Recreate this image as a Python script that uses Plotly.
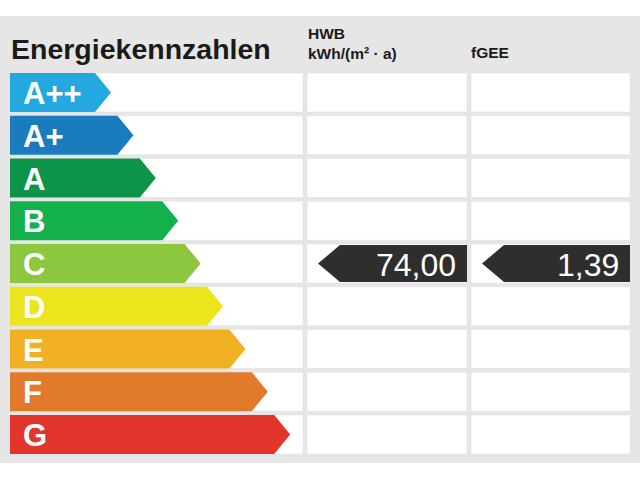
import plotly.graph_objects as go

# Energy classes and their colours (top to bottom)
classes = ["A++", "A+", "A", "B", "C", "D", "E", "F", "G"]
class_colors = ["#24a8e0", "#1a7bbd", "#0e9448", "#14b04c", "#8dc63f",
                "#ece51e", "#f2b024", "#e27a2c", "#e2352b"]

# Building values
title = "Energiekennzahlen"
hwb_header = "HWB<br>kWh/(m² · a)"
fgee_header = "fGEE"
hwb_value = "74,00"
fgee_value = "1,39"
rated_class = "C"

# Layout in pixels (640x480 canvas)
row_top = 73
row_h = 39
row_pitch = 42.75
arrow_x0 = 10
arrow_tip0 = 111
arrow_step = 22.4
tip_len = 16
cols = [(10, 303), (307, 467), (471, 630)]

fig = go.Figure()
shapes = []

# grey panel
shapes.append(dict(type="rect", xref="x", yref="y", x0=0, x1=640, y0=16, y1=463,
                   fillcolor="#e6e6e6", line_width=0, layer="below"))

for i, (cls, col) in enumerate(zip(classes, class_colors)):
    y0 = row_top + i * row_pitch
    y1 = y0 + row_h
    ym = (y0 + y1) / 2
    for cx0, cx1 in cols:
        shapes.append(dict(type="rect", xref="x", yref="y", x0=cx0, x1=cx1, y0=y0, y1=y1,
                           fillcolor="white", line=dict(color="#dcdcdc", width=0.5), layer="below"))
    tip = arrow_tip0 + i * arrow_step
    body = tip - tip_len
    fig.add_trace(go.Scatter(
        x=[arrow_x0, body, tip, body, arrow_x0, arrow_x0],
        y=[y0, y0, ym, y1, y1, y0],
        fill="toself", fillcolor=col, mode="lines", line=dict(width=0),
        hoverinfo="skip", showlegend=False))
    fig.add_annotation(x=21, y=ym + 1, text="<b>" + cls + "</b>", showarrow=False,
                       xanchor="left", yanchor="middle",
                       font=dict(family="Liberation Sans, Arial", size=31, color="white"),
                       xref="x", yref="y")

    if cls == rated_class:
        for (cx0, cx1), val in zip(cols[1:], [hwb_value, fgee_value]):
            left = cx0 + 11
            fig.add_trace(go.Scatter(
                x=[cx1, cx1, left + 22, left, left + 22, cx1],
                y=[y0 + 1, y1 - 1, y1 - 1, ym, y0 + 1, y0 + 1],
                fill="toself", fillcolor="#2e2e2e", mode="lines", line=dict(width=0),
                hoverinfo="skip", showlegend=False))
            fig.add_annotation(x=cx1 - 9, y=ym + 1, text=val, showarrow=False,
                               xanchor="right", yanchor="middle",
                               font=dict(family="Liberation Sans, Arial", size=32, color="white"),
                               xref="x", yref="y")

# headers
fig.add_annotation(x=9, y=49, text="<b>" + title + "</b>", showarrow=False, xanchor="left",
                   yanchor="middle", font=dict(family="Liberation Sans, Arial", size=28.5, color="#1a1a1a"),
                   xref="x", yref="y")
fig.add_annotation(x=306, y=43, text="<b>" + hwb_header + "</b>", showarrow=False, xanchor="left",
                   yanchor="middle", align="left",
                   font=dict(family="Liberation Sans, Arial", size=15.5, color="#1a1a1a"),
                   xref="x", yref="y")
fig.add_annotation(x=469, y=52, text="<b>" + fgee_header + "</b>", showarrow=False, xanchor="left",
                   yanchor="middle", font=dict(family="Liberation Sans, Arial", size=15.5, color="#1a1a1a"),
                   xref="x", yref="y")

fig.update_layout(
    width=640, height=480,
    margin=dict(l=0, r=0, t=0, b=0),
    paper_bgcolor="white", plot_bgcolor="white",
    shapes=shapes,
    xaxis=dict(range=[0, 640], visible=False, fixedrange=True),
    yaxis=dict(range=[480, 0], visible=False, fixedrange=True),
)

# drop the browser's default body margin so the figure sits at the page corner
fig.write_html("out.html", post_script="document.body.style.margin='0';",
               config={"displayModeBar": False})
